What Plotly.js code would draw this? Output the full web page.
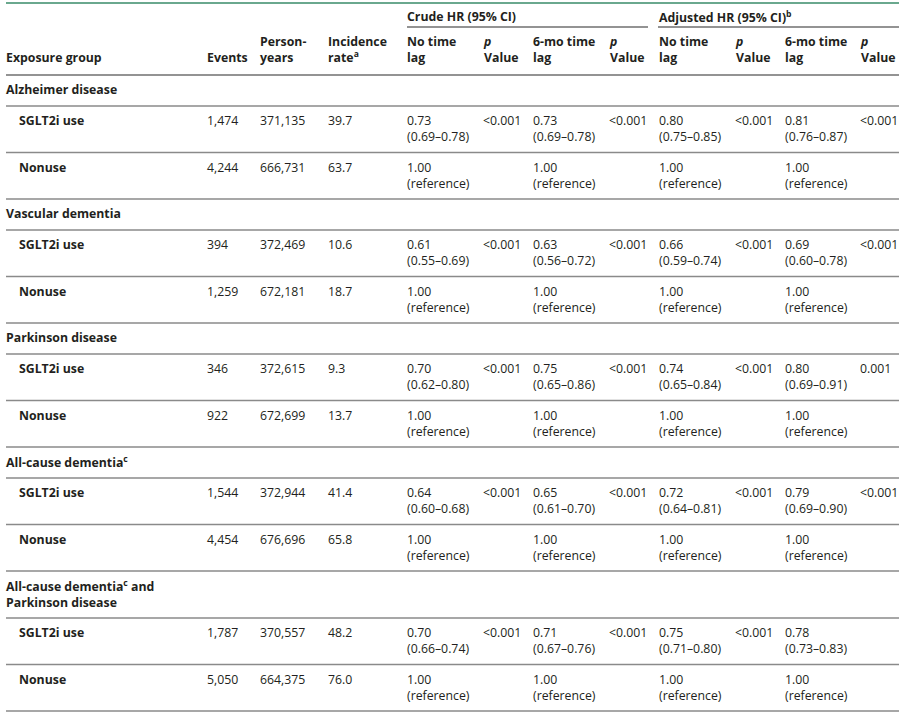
<!DOCTYPE html>
<html><head><meta charset="utf-8">
<script src="https://cdn.plot.ly/plotly-3.0.1.min.js"></script>
<style>html,body{margin:0;padding:0;background:#fff}</style>
</head><body><div id="chart" style="width:913px;height:720px"></div>
<script>
// ---- Data ----
const diseaseGroups = ["Alzheimer disease", "Vascular dementia", "Parkinson disease",
  "All-cause dementia<sup>c</sup>", "All-cause dementia<sup>c</sup> and<br>Parkinson disease"];
const exposureGroups = ["SGLT2i use", "Nonuse"];
const events = [["1,474", "4,244"], ["394", "1,259"], ["346", "922"], ["1,544", "4,454"], ["1,787", "5,050"]];
const personYears = [["371,135", "666,731"], ["372,469", "672,181"], ["372,615", "672,699"], ["372,944", "676,696"], ["370,557", "664,375"]];
const incidenceRate = [["39.7", "63.7"], ["10.6", "18.7"], ["9.3", "13.7"], ["41.4", "65.8"], ["48.2", "76.0"]];
const crudeNoLag = ["0.73 (0.69–0.78)", "0.61 (0.55–0.69)", "0.70 (0.62–0.80)", "0.64 (0.60–0.68)", "0.70 (0.66–0.74)"];
const crudeNoLagP = ["<0.001", "<0.001", "<0.001", "<0.001", "<0.001"];
const crudeLag6 = ["0.73 (0.69–0.78)", "0.63 (0.56–0.72)", "0.75 (0.65–0.86)", "0.65 (0.61–0.70)", "0.71 (0.67–0.76)"];
const crudeLag6P = ["<0.001", "<0.001", "<0.001", "<0.001", "<0.001"];
const adjNoLag = ["0.80 (0.75–0.85)", "0.66 (0.59–0.74)", "0.74 (0.65–0.84)", "0.72 (0.64–0.81)", "0.75 (0.71–0.80)"];
const adjNoLagP = ["<0.001", "<0.001", "<0.001", "<0.001", "<0.001"];
const adjLag6 = ["0.81 (0.76–0.87)", "0.69 (0.60–0.78)", "0.80 (0.69–0.91)", "0.79 (0.69–0.90)", "0.78 (0.73–0.83)"];
const adjLag6P = ["<0.001", "<0.001", "0.001", "<0.001", ""];
const referenceLabel = "1.00 (reference)";
const spanHeaders = ["Crude HR (95% CI)", "Adjusted HR (95% CI)<sup>b</sup>"];
const columnHeaders = ["Exposure group", "Events", "Person-<br>years", "Incidence<br>rate<sup>a</sup>",
  "No time<br>lag", "<i>p</i><br>Value", "6-mo time<br>lag", "<i>p</i><br>Value",
  "No time<br>lag", "<i>p</i><br>Value", "6-mo time<br>lag", "<i>p</i><br>Value"];

// ---- Layout geometry ----
const W = 913, H = 720;
const colX = [5, 206, 259, 327, 406, 482, 532, 608, 658, 734, 784, 859];
const subIndent = 18;
const tableLeft = 6, tableRight = 899;
const headerBottom = 75;
const groupRowH = 31, groupRowH2 = 47, dataRowH = 46.5;
const textColor = "#231f20";
const FONT = "Open Sans, Noto Sans, sans-serif";
const FS = 12.3;

const annotations = [];
const shapes = [];
function txt(x, y, text, bold, anchorY) {
  annotations.push({
    x: x, y: y, xref: "x", yref: "y", text: bold ? "<b>" + text + "</b>" : text,
    showarrow: false, xanchor: "left", yanchor: anchorY || "top", align: "left",
    font: {family: FONT, size: FS, color: textColor}, borderpad: 0
  });
}
function hline(x0, x1, y, color, w) {
  shapes.push({type: "line", xref: "x", yref: "y", x0: x0, x1: x1, y0: y, y1: y,
    line: {color: color, width: w}});
}
const split = s => s.replace(" (", "<br>(");

// header
hline(tableLeft, tableRight, 3, "#6aa88e", 2.2);
txt(colX[4], 7, spanHeaders[0], true);
txt(colX[8], 7, spanHeaders[1], true);
hline(407, 648, 27, "#6f6f6f", 1.3);
hline(658, tableRight, 27, "#6f6f6f", 1.3);
columnHeaders.forEach((h, i) => txt(colX[i], 67, h, true, "bottom"));
hline(tableLeft, tableRight, headerBottom, "#6f6f6f", 1.3);

// body
let y = headerBottom;
diseaseGroups.forEach((g, gi) => {
  const gh = g.indexOf("<br>") >= 0 ? groupRowH2 : groupRowH;
  txt(colX[0], y + 5, g, true);
  y += gh;
  hline(tableLeft, tableRight, y, "#8a8a8a", 1.3);
  exposureGroups.forEach((e, ei) => {
    const ty = y + 5;
    txt(subIndent, ty, e, true);
    txt(colX[1], ty, events[gi][ei]);
    txt(colX[2], ty, personYears[gi][ei]);
    txt(colX[3], ty, incidenceRate[gi][ei]);
    if (ei === 0) {
      txt(colX[4], ty, split(crudeNoLag[gi])); txt(colX[5], ty, crudeNoLagP[gi]);
      txt(colX[6], ty, split(crudeLag6[gi])); txt(colX[7], ty, crudeLag6P[gi]);
      txt(colX[8], ty, split(adjNoLag[gi])); txt(colX[9], ty, adjNoLagP[gi]);
      txt(colX[10], ty, split(adjLag6[gi])); if (adjLag6P[gi]) txt(colX[11], ty, adjLag6P[gi]);
    } else {
      [4, 6, 8, 10].forEach(c => txt(colX[c], ty, split(referenceLabel)));
    }
    y += dataRowH;
    hline(tableLeft, tableRight, y, "#8a8a8a", 1.3);
  });
});

Plotly.newPlot("chart", [], {
  width: W, height: H, margin: {l: 0, r: 0, t: 0, b: 0},
  paper_bgcolor: "#fff", plot_bgcolor: "#fff", showlegend: false,
  xaxis: {range: [0, W], visible: false, fixedrange: true},
  yaxis: {range: [H, 0], visible: false, fixedrange: true},
  annotations: annotations, shapes: shapes
}, {staticPlot: true, displayModeBar: false});
</script></body></html>
